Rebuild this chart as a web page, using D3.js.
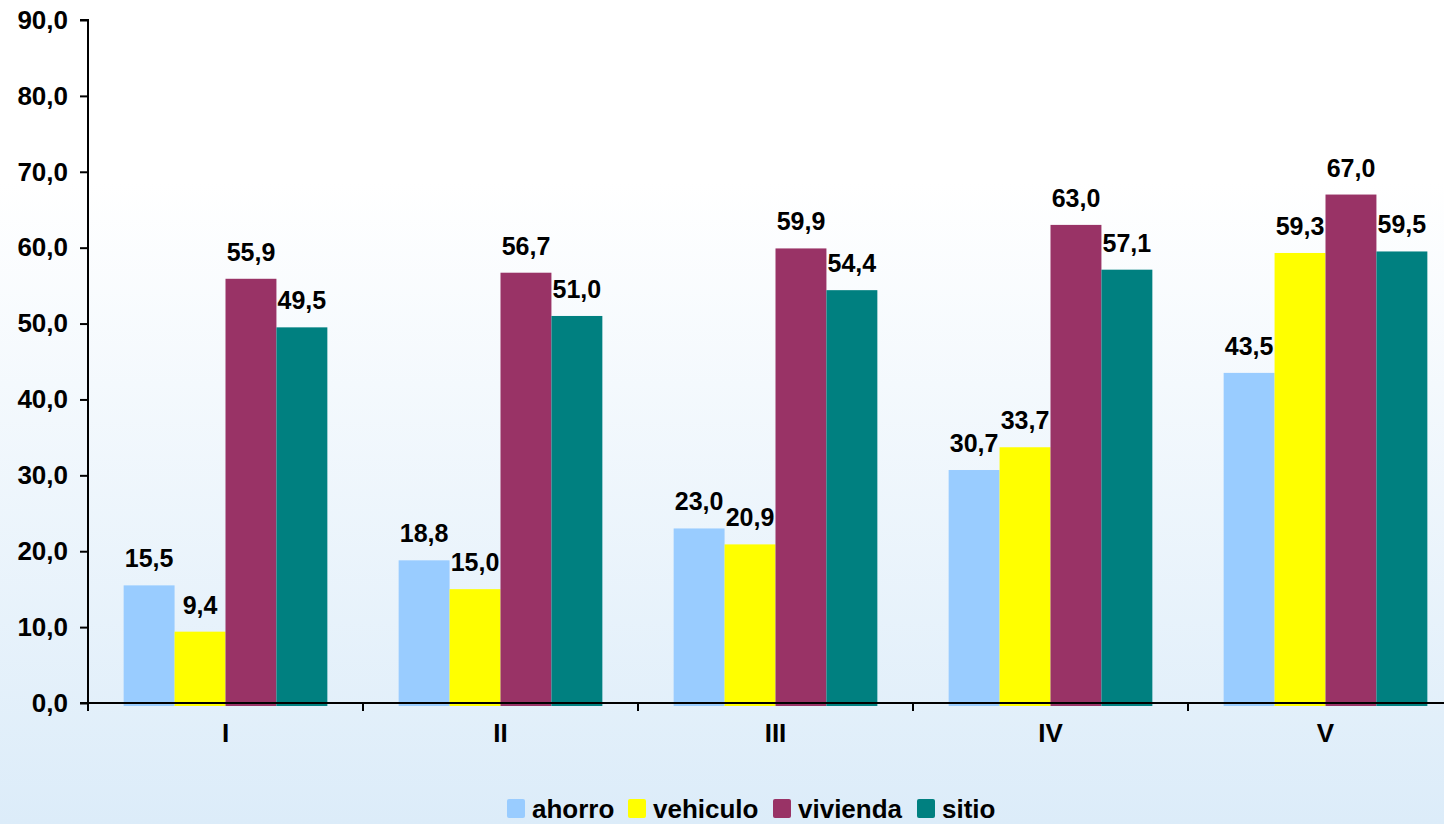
<!DOCTYPE html>
<html lang="es">
<head>
    <meta charset="UTF-8">
    <title>Quintiles</title>
    <script src="https://d3js.org/d3.v7.min.js"></script>
    <style>
        body {
            margin: 0;
            padding: 0;
            overflow: hidden;
            font-family: "Liberation Sans", Arial, sans-serif;
        }

        .axis text {
            font-size: 26px;
            font-weight: bold;
            fill: #000;
        }

        .bar-label {
            font-size: 25px;
            font-weight: bold;
            text-anchor: middle;
            fill: #000;
        }

        .legend text {
            font-size: 26px;
            font-weight: bold;
            fill: #000;
        }
    </style>
</head>
<body>
    <svg width="1444" height="824"></svg>

    <script>
        const categories = ["I", "II", "III", "IV", "V"];
        const series = ["ahorro", "vehiculo", "vivienda", "sitio"];
        const ahorro = [15.5, 18.8, 23.0, 30.7, 43.5];
        const vehiculo = [9.4, 15.0, 20.9, 33.7, 59.3];
        const vivienda = [55.9, 56.7, 59.9, 63.0, 67.0];
        const sitio = [49.5, 51.0, 54.4, 57.1, 59.5];
        const colors = ["#99ccff", "#ffff00", "#993366", "#008080"];
        const yTicks = [0, 10, 20, 30, 40, 50, 60, 70, 80, 90];

        const values = { ahorro, vehiculo, vivienda, sitio };
        const rows = [];
        categories.forEach((c, i) => {
            series.forEach(s => rows.push({ cat: c, key: s, value: values[s][i] }));
        });

        const svg = d3.select("svg");
        const W = 1444, H = 824;

        // fondo degradado blanco -> celeste
        const defs = svg.append("defs");
        const grad = defs.append("linearGradient")
            .attr("id", "bg")
            .attr("x1", "0%").attr("y1", "0%")
            .attr("x2", "0%").attr("y2", "100%");
        grad.append("stop").attr("offset", "0%").attr("stop-color", "#ffffff");
        grad.append("stop").attr("offset", "22%").attr("stop-color", "#ffffff");
        grad.append("stop").attr("offset", "100%").attr("stop-color", "#dcecf9");
        svg.append("rect").attr("width", W).attr("height", H).attr("fill", "url(#bg)");

        const plotLeft = 88, plotTop = 20, plotBottom = 703;
        const step = 275;

        const x = d3.scaleBand()
            .domain(categories)
            .range([plotLeft, plotLeft + step * categories.length])
            .padding(0);

        const xInner = d3.scaleBand()
            .domain(series)
            .range([0, x.bandwidth()])
            .paddingInner(0)
            .paddingOuter(0.7);

        const y = d3.scaleLinear()
            .domain([0, 90])
            .range([plotBottom, plotTop]);

        const fmt = d => d3.format(".1f")(d).replace(".", ",");
        const color = d3.scaleOrdinal().domain(series).range(colors);

        // barras
        svg.append("g")
            .selectAll("rect")
            .data(rows)
            .enter().append("rect")
            .attr("x", d => x(d.cat) + xInner(d.key))
            .attr("y", d => y(d.value))
            .attr("width", xInner.bandwidth())
            .attr("height", d => y(0) - y(d.value) + 3)
            .attr("fill", d => color(d.key));

        // eje Y
        const yAxis = svg.append("g")
            .attr("class", "axis")
            .attr("transform", `translate(${plotLeft},0)`)
            .call(d3.axisLeft(y).tickValues(yTicks).tickFormat(fmt).tickSize(8).tickPadding(12));
        yAxis.selectAll("path, line").attr("stroke", "#000").attr("stroke-width", 2);
        yAxis.select(".domain").attr("d", `M-8,${plotTop}H0V${plotBottom}`);

        // eje X
        const xAxis = svg.append("g")
            .attr("class", "axis")
            .attr("transform", `translate(0,${plotBottom})`)
            .call(d3.axisBottom(x).tickSize(0).tickPadding(21));
        xAxis.select(".domain").attr("d", `M${plotLeft - 8},0H${W}`)
            .attr("stroke", "#000").attr("stroke-width", 2);
        xAxis.selectAll(".tick text").attr("dy", "0.71em");

        // separadores entre categorias
        xAxis.selectAll(".sep")
            .data(categories)
            .enter().append("line")
            .attr("class", "sep")
            .attr("x1", d => x(d)).attr("x2", d => x(d))
            .attr("y1", 0).attr("y2", 8)
            .attr("stroke", "#000").attr("stroke-width", 2);

        // etiquetas de valores
        svg.append("g")
            .selectAll("text")
            .data(rows)
            .enter().append("text")
            .attr("class", "bar-label")
            .attr("x", d => x(d.cat) + xInner(d.key) + xInner.bandwidth() / 2)
            .attr("y", d => y(d.value) - 18)
            .text(d => fmt(d.value));

        // leyenda
        const legendX = [507, 628, 773, 917];
        const legend = svg.append("g").attr("class", "legend");
        const item = legend.selectAll("g")
            .data(series)
            .enter().append("g")
            .attr("transform", (d, i) => `translate(${legendX[i]},799)`);
        item.append("rect")
            .attr("width", 18).attr("height", 19).attr("rx", 2)
            .attr("fill", d => color(d));
        item.append("text")
            .attr("x", 25).attr("y", 19)
            .text(d => d);
    </script>
</body>
</html>
